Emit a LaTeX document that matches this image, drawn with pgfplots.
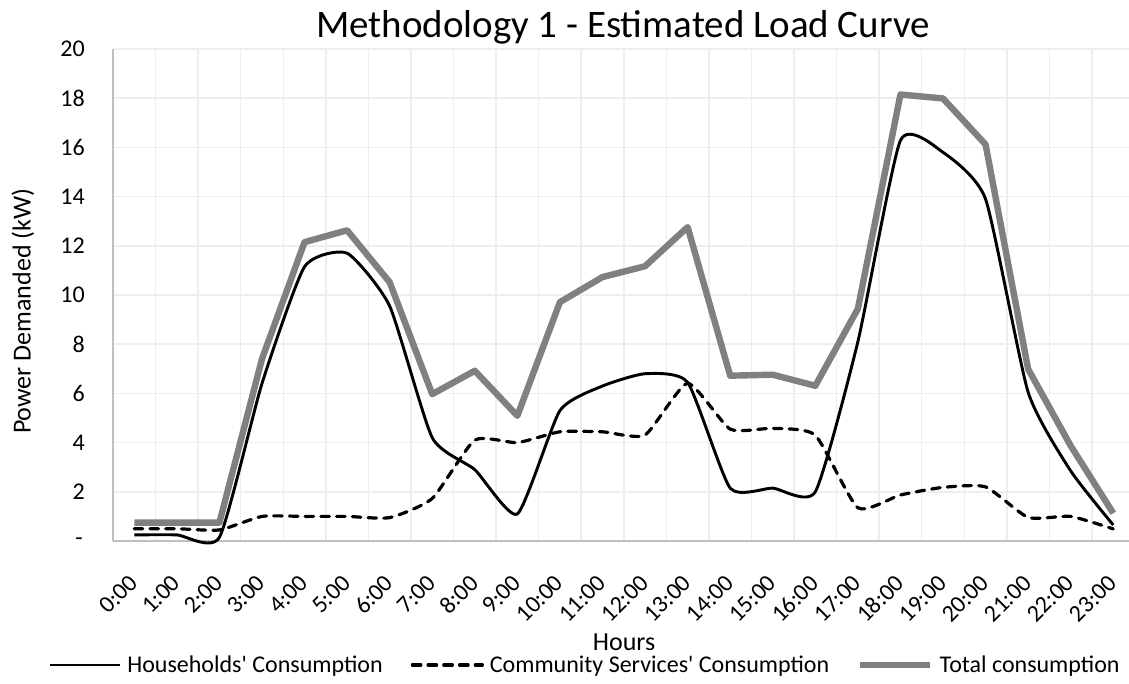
\documentclass[border=0pt]{standalone}
\usepackage{fontspec}
\setmainfont{Carlito}
\usepackage{pgfplots}
\pgfplotsset{compat=1.18}
\usepackage{pgfplotstable}
\definecolor{gridc}{HTML}{EEEEEE}
\definecolor{axc}{HTML}{BFBFBF}
\definecolor{totc}{HTML}{808080}

\pgfplotstableread{
h house comm total
0 0.25 0.50 0.75
1 0.25 0.50 0.75
2 0.15 0.45 0.75
3 6.40 1.00 7.40
4 11.15 1.00 12.15
5 11.70 1.00 12.63
6 9.55 0.95 10.52
7 4.20 1.73 5.97
8 2.90 4.10 6.92
9 1.10 4.00 5.09
10 5.30 4.44 9.71
11 6.30 4.44 10.73
12 6.80 4.31 11.17
13 6.45 6.41 12.76
14 2.15 4.55 6.72
15 2.15 4.58 6.76
16 2.00 4.30 6.31
17 8.10 1.35 9.44
18 16.28 1.87 18.15
19 15.80 2.18 17.99
20 13.90 2.20 16.12
21 6.05 0.96 6.99
22 2.85 1.00 3.87
23 0.65 0.49 1.13
}\loadtable

\begin{document}
\begin{tikzpicture}
\begin{axis}[
  scale only axis, width=762pt, height=369pt,
  xmin=-0.5, xmax=23.37, ymin=0, ymax=20,
  clip=false,
  axis lines*=left,
  axis line style={axc, line width=1.5pt},
  xtick={0,...,23},
  xticklabels={0:00,1:00,2:00,3:00,4:00,5:00,6:00,7:00,8:00,9:00,10:00,11:00,12:00,13:00,14:00,15:00,16:00,17:00,18:00,19:00,20:00,21:00,22:00,23:00},
  minor xtick={-0.5,0.5,...,23.5},
  xminorgrids, ymajorgrids,
  grid style={gridc, line width=1.1pt},
  minor grid style={gridc, line width=1.1pt},
  ytick={0,2,...,20},
  yticklabels={\raisebox{-6pt}{-\hspace{1.5pt}},2,4,6,8,10,12,14,16,18,20},
  major tick length=0pt, minor tick length=0pt,
  tick style={draw=none},
  /pgf/number format/assume math mode=true,
  ticklabel style={font=\fontsize{18}{21.6}\selectfont, inner sep=0pt},
  yticklabel style={anchor=east, xshift=-21pt},
  xticklabel style={yshift=-28.5pt, xshift=-0.5pt, rotate=45, anchor=east},
  title={Methodology 1 - Estimated Load Curve},
  every axis title/.style={at={(axis description cs:0.502,1)}, anchor=base, yshift=9pt, inner sep=0pt, font=\fontsize{29.2}{34}\selectfont},
  xlabel={Hours},
  xlabel style={at={(axis description cs:0.503,-0.2063)}, anchor=center, inner sep=0pt, font=\fontsize{19.5}{23}\selectfont},
  ylabel={Power Demanded (kW)},
  ylabel style={at={(axis description cs:-0.0886,0.467)}, anchor=center, inner sep=0pt, font=\fontsize{19.5}{23}\selectfont},
  legend columns=3,
  legend style={at={(axis description cs:0.4636,-0.252)}, anchor=center, draw=none, fill=none, inner sep=0pt, outer sep=0pt, font=\fontsize{18}{21.6}\selectfont, nodes={inner sep=0pt}, /tikz/every odd column/.append style={column sep=4.5pt}, /tikz/every even column/.append style={column sep=21pt}},
  legend image code/.code={\draw[#1] (0pt,0pt) -- (52.5pt,0pt);},
]
\coordinate (O) at (rel axis cs:0,0);
\addplot[black, line width=2.2pt, smooth, tension=0.333, no marks] table[x=h, y=house] {\loadtable};
\addlegendentry{Households\textquotesingle\ Consumption}
\addplot[black, line width=2.4pt, dash pattern=on 6.4pt off 5.4pt, line cap=round, smooth, tension=0.333, no marks] table[x=h, y=comm] {\loadtable};
\addlegendentry{Community Services\textquotesingle\ Consumption}
\addplot[totc, line width=4.8pt, line join=round, no marks] table[x=h, y=total] {\loadtable};
\addlegendentry{Total consumption}
\end{axis}
\pgfresetboundingbox
\path[use as bounding box] (O) ++(-84.75pt,-106.5pt) rectangle ++(846.75pt,512.25pt);
\end{tikzpicture}
\end{document}
